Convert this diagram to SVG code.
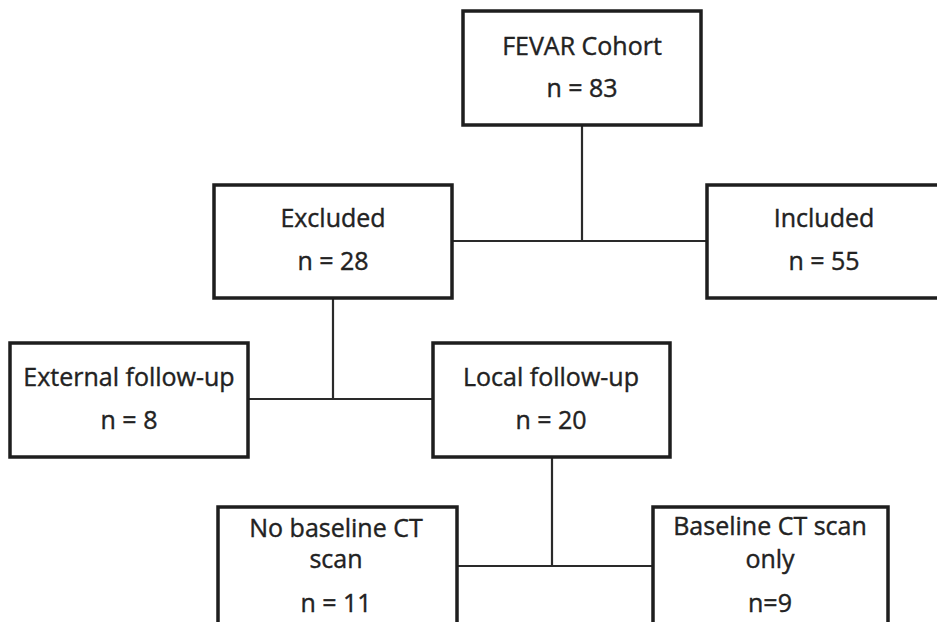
<svg xmlns="http://www.w3.org/2000/svg" width="937" height="622" viewBox="0 0 937 622">
<style>
.box{fill:#fff;stroke:#1e1e1e;stroke-width:3.5}
.con{fill:none;stroke:#2a2a2a;stroke-width:2.2}
text{font-family:"Open Sans","Liberation Sans",sans-serif;font-size:25px;fill:#222;stroke:#222;stroke-width:0.4;text-anchor:middle}
</style>
<rect width="937" height="622" fill="#fff"/>
<g id="connectors">
<path class="con" d="M582,126 V241 M452,241 H707"/>
<path class="con" d="M333,298 V399 M248,399 H433"/>
<path class="con" d="M552,457 V566 M457,566 H653"/>
</g>
<g id="fevar"><rect class="box" x="463" y="11" width="238" height="114"/><text x="582" y="55">FEVAR Cohort</text><text x="582" y="97">n = 83</text></g>
<g id="excluded"><rect class="box" x="214" y="185" width="238" height="113"/><text x="333" y="227">Excluded</text><text x="333" y="270">n = 28</text></g>
<g id="included"><rect class="box" x="707" y="185" width="240" height="113"/><text x="824" y="227">Included</text><text x="824" y="270">n = 55</text></g>
<g id="external"><rect class="box" x="10" y="343" width="238" height="114"/><text x="129" y="386">External follow-up</text><text x="129" y="429">n = 8</text></g>
<g id="local"><rect class="box" x="433" y="343" width="237" height="114"/><text x="551" y="386">Local follow-up</text><text x="551" y="429">n = 20</text></g>
<g id="nobaseline"><rect class="box" x="218" y="507" width="239" height="130"/><text x="336" y="537">No baseline CT</text><text x="336" y="568">scan</text><text x="336" y="612">n = 11</text></g>
<g id="baseline"><rect class="box" x="653" y="507" width="235" height="130"/><text x="770" y="535">Baseline CT scan</text><text x="770" y="568">only</text><text x="770" y="612">n=9</text></g>
</svg>
